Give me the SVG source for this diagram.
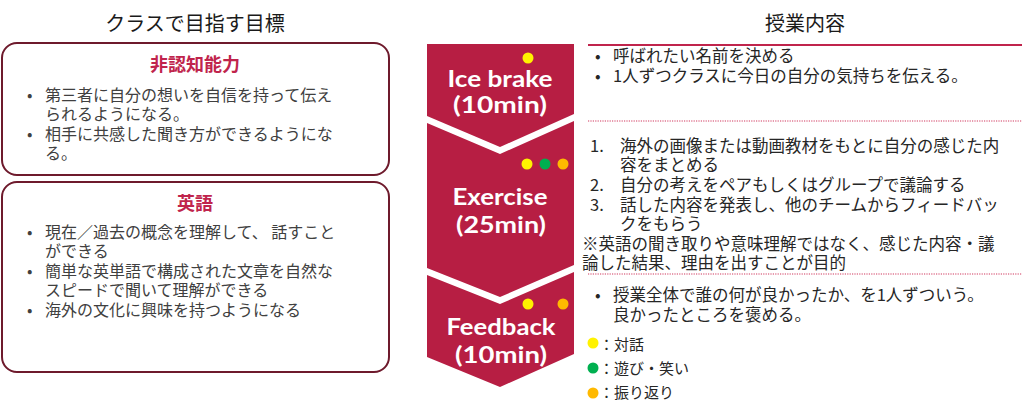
<svg xmlns="http://www.w3.org/2000/svg" width="1024" height="410" viewBox="0 0 1024 410">
<style>
.title{font-family:"Noto Sans CJK JP","Noto Sans",sans-serif;font-size:20px;fill:#1a1a1a;text-anchor:middle}
.head{font-family:"Noto Sans CJK JP","Noto Sans",sans-serif;font-size:18px;font-weight:bold;fill:#C0244C;text-anchor:middle}
.body{font-family:"Noto Sans CJK JP","Noto Sans",sans-serif;font-size:16px;fill:#404040}
.rb{font-family:"Noto Sans CJK JP","Noto Sans",sans-serif;font-size:16.5px;fill:#262626}
.leg{font-family:"Noto Sans CJK JP","Noto Sans",sans-serif;font-size:15px;fill:#262626}
.box{fill:#fff;stroke:#6E1A2C;stroke-width:2}
.chev{fill:#B71E43}
.ct{font-family:"Lato","DejaVu Sans",sans-serif;font-weight:bold;font-size:23px;fill:#fff;text-anchor:middle}
.y{fill:#FFF200}.g{fill:#00B050}.o{fill:#FFB900}
.dot{stroke:#D0385E;stroke-width:1.2;stroke-dasharray:1.2 1.2;fill:none}
</style>

<g id="left-title"><text class="title" x="195" y="31">クラスで目指す目標</text></g>

<g id="goal-noncognitive">
<rect class="box" x="2" y="43" width="387" height="132" rx="15"/>
<text class="head" x="195" y="71">非認知能力</text>
<text class="body"><tspan x="27" y="101">•</tspan><tspan x="45" y="101">第三者に自分の想いを自信を持って伝え</tspan><tspan x="45" y="120">られるようになる。</tspan><tspan x="27" y="140">•</tspan><tspan x="45" y="140">相手に共感した聞き方ができるようにな</tspan><tspan x="45" y="159">る。</tspan></text>
</g>

<g id="goal-english">
<rect class="box" x="2" y="182" width="387" height="190" rx="15"/>
<text class="head" x="195" y="210">英語</text>
<text class="body"><tspan x="27" y="238">•</tspan><tspan x="45" y="238">現在／過去の概念を理解して、 話すこと</tspan><tspan x="45" y="257">ができる</tspan><tspan x="27" y="277">•</tspan><tspan x="45" y="277">簡単な英単語で構成された文章を自然な</tspan><tspan x="45" y="296">スピードで聞いて理解ができる</tspan><tspan x="27" y="316">•</tspan><tspan x="45" y="316">海外の文化に興味を持つようになる</tspan></text>
</g>

<g id="step-icebrake">
<path class="chev" d="M427,44 H574 V114 L500,147 L427,116 Z"/>
<circle class="y" cx="528" cy="58" r="5.5"/>
<text class="ct"><tspan x="500" y="87" textLength="105" lengthAdjust="spacingAndGlyphs">Ice brake</tspan><tspan x="500" y="113" textLength="94" lengthAdjust="spacingAndGlyphs">(10min)</tspan></text>
</g>

<g id="step-exercise">
<path class="chev" d="M427,123 L500,154 L574,121 V265 L500,297 L427,268 Z"/>
<circle class="y" cx="527" cy="164" r="5.5"/>
<circle class="g" cx="545" cy="164" r="5.5"/>
<circle class="o" cx="563" cy="164" r="5.5"/>
<text class="ct"><tspan x="500" y="205" textLength="95" lengthAdjust="spacingAndGlyphs">Exercise</tspan><tspan x="501" y="233" textLength="90" lengthAdjust="spacingAndGlyphs">(25min)</tspan></text>
</g>

<g id="step-feedback">
<path class="chev" d="M427,275 L500,304 L574,272 V354 L500,387 L427,357 Z"/>
<circle class="y" cx="528" cy="304" r="5.5"/>
<circle class="o" cx="563" cy="304" r="5.5"/>
<text class="ct"><tspan x="501" y="335" textLength="109" lengthAdjust="spacingAndGlyphs">Feedback</tspan><tspan x="501" y="363" textLength="92" lengthAdjust="spacingAndGlyphs">(10min)</tspan></text>
</g>

<g id="right-title"><text class="title" x="805" y="31">授業内容</text></g>

<g id="connectors">
<line x1="588" y1="45" x2="1022" y2="45" stroke="#C0244C" stroke-width="1.8"/>
<line class="dot" x1="588" y1="121" x2="1022" y2="121"/>
<line class="dot" x1="588" y1="274" x2="1022" y2="274"/>
</g>

<g id="content-icebrake">
<text class="rb"><tspan x="595" y="62">•</tspan><tspan x="613" y="62">呼ばれたい名前を決める</tspan><tspan x="595" y="82">•</tspan><tspan x="613" y="82">1人ずつクラスに今日の自分の気持ちを伝える。</tspan></text>
</g>

<g id="content-exercise">
<text class="rb"><tspan x="590" y="152">1.</tspan><tspan x="620" y="152">海外の画像または動画教材をもとに自分の感じた内</tspan><tspan x="620" y="171">容をまとめる</tspan><tspan x="590" y="191">2.</tspan><tspan x="620" y="191">自分の考えをペアもしくはグループで議論する</tspan><tspan x="590" y="211">3.</tspan><tspan x="620" y="211">話した内容を発表し、他のチームからフィードバッ</tspan><tspan x="620" y="230">クをもらう</tspan><tspan x="582" y="250">※英語の聞き取りや意味理解ではなく、感じた内容・議</tspan><tspan x="582" y="269">論した結果、理由を出すことが目的</tspan></text>
</g>

<g id="content-feedback">
<text class="rb"><tspan x="595" y="301">•</tspan><tspan x="613" y="301">授業全体で誰の何が良かったか、を1人ずついう。</tspan><tspan x="613" y="321">良かったところを褒める。</tspan></text>
</g>

<g id="legend">
<circle class="y" cx="593" cy="343" r="5.5"/>
<circle class="g" cx="593" cy="368" r="5.5"/>
<circle class="o" cx="593" cy="393" r="5.5"/>
<text class="leg"><tspan x="599" y="350">：対話</tspan><tspan x="599" y="374">：遊び・笑い</tspan><tspan x="599" y="398">：振り返り</tspan></text>
</g>
</svg>
